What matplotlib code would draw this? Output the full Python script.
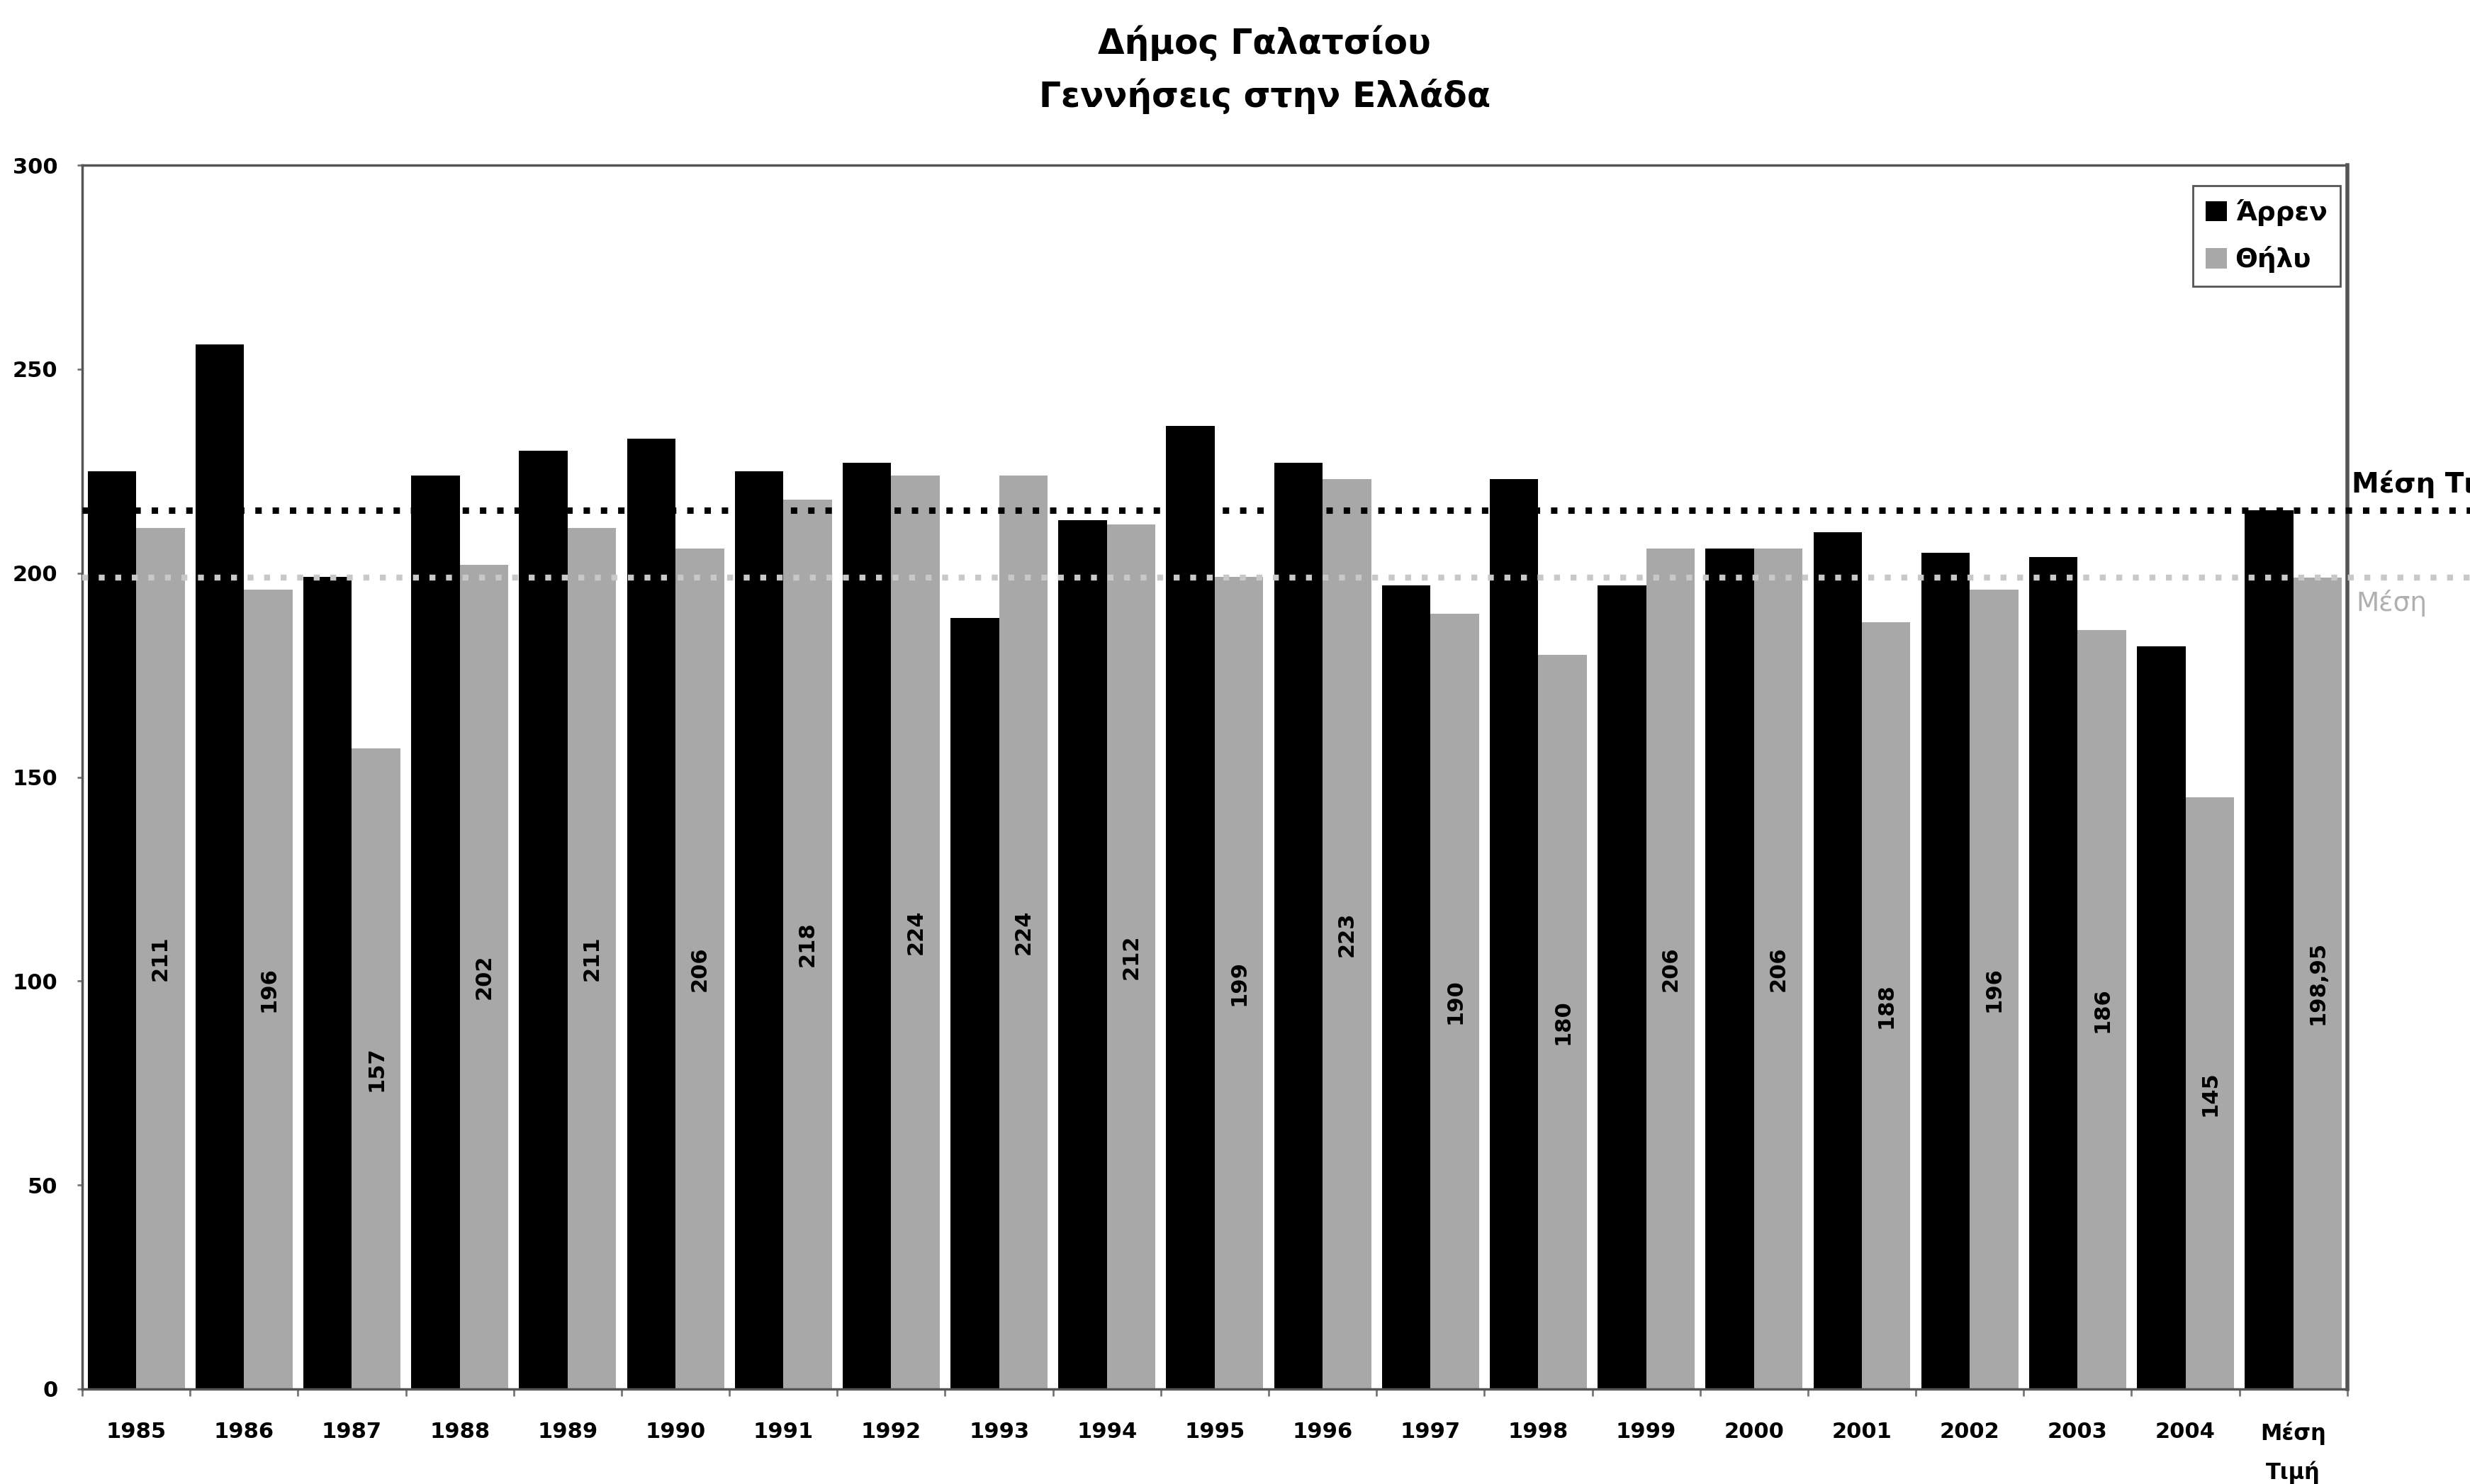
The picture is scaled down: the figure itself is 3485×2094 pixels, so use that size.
import matplotlib.pyplot as plt
import numpy as np

# data
years = ["1985", "1986", "1987", "1988", "1989", "1990", "1991", "1992", "1993", "1994",
         "1995", "1996", "1997", "1998", "1999", "2000", "2001", "2002", "2003", "2004",
         "Μέση\nΤιμή"]
male = [225, 256, 199, 224, 230, 233, 225, 227, 189, 213,
        236, 227, 197, 223, 197, 206, 210, 205, 204, 182, 215.4]
female = [211, 196, 157, 202, 211, 206, 218, 224, 224, 212,
          199, 223, 190, 180, 206, 206, 188, 196, 186, 145, 198.95]
male_mean = 215.4
female_mean = 198.95

fig = plt.figure(figsize=(34.85, 20.94), dpi=100)
ax = fig.add_axes([0.0333, 0.064, 0.917, 0.8247])

x = np.arange(len(years))
w = 0.45
ax.bar(x - w / 2, male, w, color="black", label="Άρρεν", zorder=2)
ax.bar(x + w / 2, female, w, color="#a8a8a8", label="Θήλυ", zorder=2)

# value labels inside the grey bars
for xi, v in zip(x, female):
    ax.text(xi + w / 2, v / 2, f"{v:g}".replace(".", ","), rotation=90,
            ha="center", va="center", fontsize=22, fontweight="bold", zorder=4)

# mean lines, running past the right edge
ax.axhline(male_mean, xmin=0, xmax=1.2, color="black", lw=6.5,
           ls=(0, (1, 1.7)), clip_on=False, zorder=3)
ax.axhline(female_mean, xmin=0, xmax=1.2, color="#c8c8c8", lw=6,
           ls=(0, (1, 1.8)), clip_on=False, zorder=3)
trans = ax.get_yaxis_transform()
ax.text(1.002, male_mean + 3, "Μέση Τιμή", transform=trans, ha="left", va="bottom",
        fontsize=28, fontweight="bold", color="black")
ax.text(1.004, female_mean - 3, "Μέση", transform=trans, ha="left", va="top",
        fontsize=27, color="#b0b0b0")

ax.set_xlim(-0.5, len(years) - 0.5)
ax.set_ylim(0, 300)
ax.set_yticks(np.arange(0, 301, 50))
ax.set_xticks(x)
ax.set_xticklabels(years, fontsize=22, fontweight="bold", linespacing=1.9, va="top")
ax.set_xticks(np.arange(-0.5, len(years)), minor=True)
ax.tick_params(axis="x", which="major", length=0, pad=33)
ax.tick_params(axis="x", which="minor", length=7, width=2, color="#777777")
ax.tick_params(axis="y", length=5, width=2, color="#777777", pad=20, labelsize=22)
for lab in ax.get_yticklabels():
    lab.set_fontweight("bold")

for s in ax.spines.values():
    s.set_color("#555555")
    s.set_linewidth(2.5)
ax.spines["right"].set_linewidth(4)

leg = ax.legend(loc="upper right", bbox_to_anchor=(0.997, 0.983), borderaxespad=0,
                fancybox=False, edgecolor="#555555", framealpha=1,
                prop={"weight": "bold", "size": 27}, handlelength=0.8,
                handleheight=0.8, handletextpad=0.3, labelspacing=0.75, borderpad=0.5)
leg.get_frame().set_linewidth(2)

fig.text(0.512, 0.971, "Δήμος Γαλατσίου", ha="center", va="center",
         fontsize=35, fontweight="bold")
fig.text(0.512, 0.935, "Γεννήσεις στην Ελλάδα", ha="center", va="center",
         fontsize=35, fontweight="bold")

fig.savefig("out.png", dpi=100)
